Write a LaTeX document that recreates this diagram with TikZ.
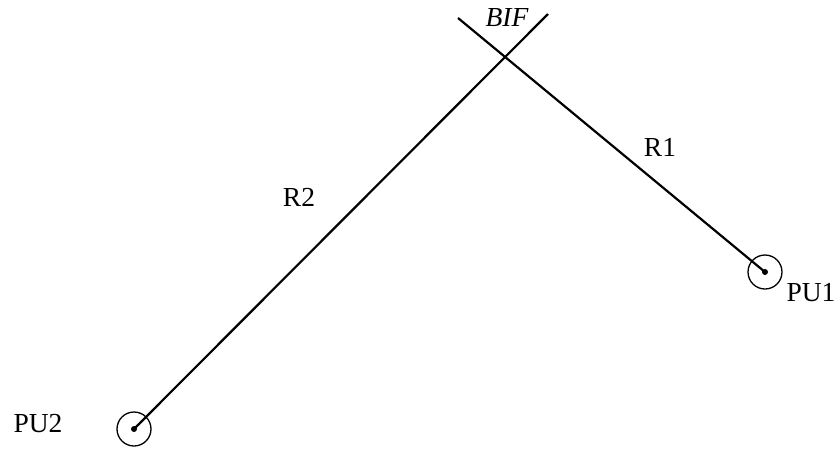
\documentclass[tikz,border=0pt]{standalone}
\usepackage{fontspec}
\setmainfont{Liberation Serif}
\begin{document}
\begin{tikzpicture}[x=1pt,y=-1pt,
  lbl/.style={font=\fontsize{27.5}{32}\selectfont, inner sep=0pt},
  pu/.style={circle, draw, line width=1.3pt, minimum size=34pt, inner sep=0pt},
  ln/.style={line width=2.2pt},
  dotc/.style={circle, fill, minimum size=6pt, inner sep=0pt}]
\useasboundingbox (0,0) rectangle (839,448);
\node[pu] (pu1) at (765,272) {};
\node[pu] (pu2) at (134,429) {};
\node[dotc] (d1) at (pu1.center) {};
\node[dotc] (d2) at (pu2.center) {};
\coordinate (a1) at (458,18);
\coordinate (a2) at (548,14);
\draw[ln] (a1) -- (pu1.center);
\draw[ln] (a2) -- (pu2.center);
\node[lbl, font=\fontsize{27.5}{32}\selectfont\itshape] (bif) at (507,18) {BIF};
\node[lbl] (r1) at (660,147) {R1};
\node[lbl] (r2) at (299,197) {R2};
\node[lbl] (l1) at (811,293) {PU1};
\node[lbl] (l2) at (38,424) {PU2};
\end{tikzpicture}
\end{document}
